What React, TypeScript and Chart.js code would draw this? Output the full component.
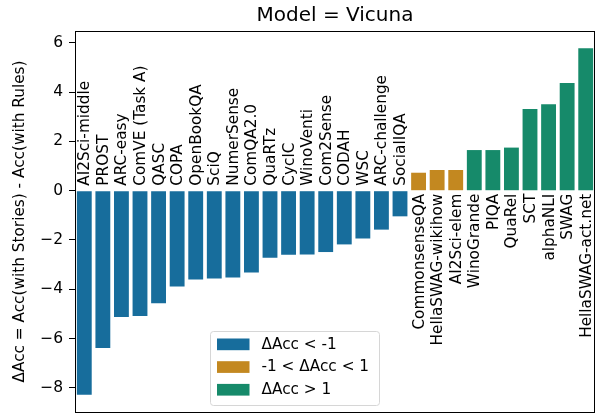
import React, { useEffect, useRef } from "react";
import { Chart, registerables } from "chart.js";

Chart.register(...registerables);

const categories = [
  "AI2Sci-middle", "PROST", "ARC-easy", "ComVE (Task A)", "QASC", "COPA",
  "OpenBookQA", "SciQ", "NumerSense", "ComQA2.0", "QuaRTz", "CyclC",
  "WinoVenti", "Com2Sense", "CODAH", "WSC", "ARC-challenge", "SocialIQA",
  "CommonsenseQA", "HellaSWAG-wikihow", "AI2Sci-elem", "WinoGrande", "PIQA",
  "QuaRel", "SCT", "alphaNLI", "SWAG", "HellaSWAG-act.net",
];

const deltaAcc = [
  -8.28, -6.39, -5.13, -5.09, -4.57, -3.89, -3.60, -3.56, -3.52, -3.32,
  -2.72, -2.60, -2.59, -2.49, -2.18, -1.94, -1.58, -1.04,
  0.73, 0.84, 0.84, 1.65, 1.65, 1.75, 3.32, 3.51, 4.37, 5.78,
];

const yTicks = [-8, -6, -4, -2, 0, 2, 4, 6];

const legendLabels = ["\u0394Acc < -1", "-1 < \u0394Acc < 1", "\u0394Acc > 1"];
const groupColors = ["#176d9c", "#c38820", "#168a6a"];

const titleText = "Model = Vicuna";
const yAxisTitle = "\u0394Acc = Acc(with Stories) - Acc(with Rules)";

const FONT = "'DejaVu Sans', sans-serif";

function groupOf(v: number) {
  if (v < -1) return 0;
  if (v > 1) return 2;
  return 1;
}

export default function App() {
  const ref = useRef<HTMLCanvasElement | null>(null);

  useEffect(() => {
    if (!ref.current) return;
    const dMin = Math.min(...deltaAcc);
    const dMax = Math.max(...deltaAcc);
    const margin = (dMax - dMin) * 0.05;

    const decor = {
      id: "decor",
      afterDatasetsDraw(chart: any) {
        const ctx = chart.ctx;
        const area = chart.chartArea;
        const xs = chart.scales.x;
        const ys = chart.scales.y;
        const y0 = ys.getPixelForValue(0);
        ctx.save();
        // bar labels
        ctx.fillStyle = "#000";
        ctx.font = `15.3px ${FONT}`;
        ctx.textBaseline = "middle";
        categories.forEach((c, i) => {
          const x = xs.getPixelForValue(i);
          const v = deltaAcc[i];
          ctx.save();
          if (v < 0) {
            ctx.translate(x, y0 - 5);
            ctx.rotate(-Math.PI / 2);
            ctx.textAlign = "left";
          } else {
            ctx.translate(x, y0 + 3);
            ctx.rotate(-Math.PI / 2);
            ctx.textAlign = "right";
          }
          ctx.fillText(c, 0, 1);
          ctx.restore();
        });
        // frame
        ctx.strokeStyle = "#000";
        ctx.lineWidth = 1;
        ctx.strokeRect(
          Math.round(area.left) + 0.5,
          Math.round(area.top) + 0.5,
          Math.round(area.right - area.left) - 1,
          Math.round(area.bottom - area.top)
        );
        // title
        ctx.font = `20px ${FONT}`;
        ctx.textAlign = "center";
        ctx.textBaseline = "alphabetic";
        ctx.fillText(titleText, (area.left + area.right) / 2, 21);
        // y axis title
        ctx.save();
        ctx.font = `15.3px ${FONT}`;
        ctx.translate(20, (area.top + area.bottom) / 2);
        ctx.rotate(-Math.PI / 2);
        ctx.textAlign = "center";
        ctx.textBaseline = "middle";
        ctx.fillText(yAxisTitle, 0, 0);
        ctx.restore();
        // legend
        const lx = 210, ly = 331, lw = 169, lh = 74;
        ctx.beginPath();
        (ctx as any).roundRect(lx + 0.5, ly + 0.5, lw, lh, 3);
        ctx.fillStyle = "rgba(255,255,255,0.8)";
        ctx.fill();
        ctx.strokeStyle = "#d6d6d6";
        ctx.lineWidth = 1;
        ctx.stroke();
        ctx.font = `15.3px ${FONT}`;
        ctx.textAlign = "left";
        ctx.textBaseline = "middle";
        legendLabels.forEach((lab, i) => {
          const py = ly + 7.5 + i * 22.7;
          ctx.fillStyle = groupColors[i];
          ctx.fillRect(lx + 7, py, 32.5, 11.7);
          ctx.fillStyle = "#000";
          ctx.fillText(lab, lx + 51.5, py + 6.3);
        });
        ctx.restore();
      },
    };

    const chart = new Chart(ref.current, {
      type: "bar",
      data: {
        labels: categories,
        datasets: [
          {
            data: deltaAcc,
            backgroundColor: deltaAcc.map((v) => groupColors[groupOf(v)]),
            borderWidth: 0,
            barPercentage: 0.8,
            categoryPercentage: 1.0,
          },
        ],
      },
      options: {
        animation: false,
        responsive: false,
        devicePixelRatio: 1,
        layout: { padding: { left: 0, top: 31, right: 3, bottom: 3 } },
        plugins: {
          legend: { display: false },
          title: { display: false },
          tooltip: { enabled: false },
        },
        scales: {
          x: {
            type: "category",
            display: false,
            offset: true,
          },
          y: {
            type: "linear",
            min: dMin - margin,
            max: dMax + margin,
            afterFit(scale: any) {
              scale.width = 75;
              scale.paddingTop = 0;
              scale.paddingBottom = 0;
            },
            afterBuildTicks(scale: any) {
              scale.ticks = yTicks.map((v) => ({ value: v }));
            },
            border: { display: false },
            grid: {
              display: true,
              drawOnChartArea: false,
              drawTicks: true,
              tickLength: 6,
              tickColor: "#000",
              tickWidth: 1,
            },
            ticks: {
              padding: 6,
              color: "#000",
              font: { family: FONT, size: 15.5 },
              callback: (v: any) =>
                v < 0 ? "\u2212" + Math.abs(v) : String(v),
            },
          },
        },
      },
      plugins: [decor],
    });
    return () => chart.destroy();
  }, []);

  return (
    <div style={{ position: "fixed", left: 0, top: 0, width: 598, height: 415, background: "#fff" }}>
      <canvas ref={ref} width={598} height={415} style={{ display: "block" }} />
    </div>
  );
}
